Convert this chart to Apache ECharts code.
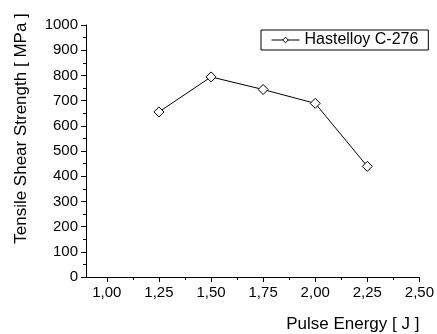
<!DOCTYPE html>
<html>
<head>
<meta charset="utf-8">
<script src="https://cdn.jsdelivr.net/npm/echarts@6/dist/echarts.min.js"></script>
<style>
  html, body { margin: 0; padding: 0; background: #fff; }
  #chart { width: 437px; height: 334px; }
</style>
</head>
<body>
<div id="chart"></div>
<script type="text/javascript">
	// data
	var energy = [1.25, 1.50, 1.75, 2.00, 2.25];
	var strength = [655, 794, 744, 689, 439];
	var xTicks = [1.00, 1.25, 1.50, 1.75, 2.00, 2.25, 2.50];
	var xMinorTicks = [1.125, 1.375, 1.625, 1.875, 2.125, 2.375];
	var seriesName = 'Hastelloy C-276';

	var font = 'Liberation Sans, Arial, sans-serif';
	var chart = echarts.init(document.getElementById('chart'));

	function comma(v) {
		return v.toFixed(2).replace('.', ',');
	}

	var option = {
		backgroundColor: '#fff',
		animation: false,
		grid: {
			left: 86,
			right: 14,
			top: 25,
			bottom: 57
		},
		legend: {
			data: [seriesName],
			left: 261,
			top: 30,
			padding: [2, 10, 2, 10],
			borderColor: '#000',
			borderWidth: 1,
			itemWidth: 28,
			itemHeight: 7,
			itemGap: 0,
			lineStyle: { width: 1, color: '#000' },
			itemStyle: { color: '#fff', borderColor: '#000', borderWidth: 1 },
			textStyle: {
				color: '#000',
				fontSize: 16,
				fontFamily: font
			}
		},
		xAxis: [
			{
				type: 'value',
				min: 0.9,
				max: 2.5,
				name: 'Pulse Energy [ J ]',
				nameLocation: 'end',
				nameGap: 0,
				nameTextStyle: {
					color: '#000',
					fontSize: 17,
					fontFamily: font,
					align: 'right',
					verticalAlign: 'top',
					padding: [39, 0, 0, 0]
				},
				axisLine: { lineStyle: { color: '#000', width: 1 } },
				axisTick: { length: 5, customValues: xTicks, lineStyle: { color: '#000' } },
				axisLabel: {
					customValues: xTicks,
					margin: 8,
					color: '#000',
					fontSize: 15,
					fontFamily: font,
					formatter: function (v) { return comma(v); }
				},
				splitLine: { show: false }
			},
			{
				type: 'value',
				position: 'bottom',
				min: 0.9,
				max: 2.5,
				axisLine: { show: false },
				axisTick: { length: 3, customValues: xMinorTicks, lineStyle: { color: '#000' } },
				axisLabel: { show: false },
				splitLine: { show: false }
			}
		],
		yAxis: {
			type: 'value',
			min: 0,
			max: 1000,
			interval: 100,
			name: 'Tensile Shear Strength [ MPa ]',
			nameLocation: 'middle',
			nameGap: 56,
			nameTextStyle: {
				color: '#000',
				fontSize: 17,
				fontFamily: font,
				padding: [0, 0, 0, 45]
			},
			axisLine: { show: true, lineStyle: { color: '#000', width: 1 } },
			axisTick: { show: true, length: 5, lineStyle: { color: '#000' } },
			minorTick: { show: true, splitNumber: 2, length: 3, lineStyle: { color: '#000' } },
			axisLabel: {
				margin: 8,
				color: '#000',
				fontSize: 15,
				fontFamily: font,
				formatter: function (v) { return String(v); }
			},
			splitLine: { show: false }
		},
		series: [
			{
				name: seriesName,
				type: 'line',
				xAxisIndex: 0,
				data: energy.map(function (e, i) { return [e, strength[i]]; }),
				symbol: 'diamond',
				symbolSize: 10,
				showAllSymbol: true,
				lineStyle: { color: '#000', width: 1 },
				itemStyle: { color: '#fff', borderColor: '#000', borderWidth: 1 }
			}
		]
	};
	chart.setOption(option);
</script>
</body>
</html>
